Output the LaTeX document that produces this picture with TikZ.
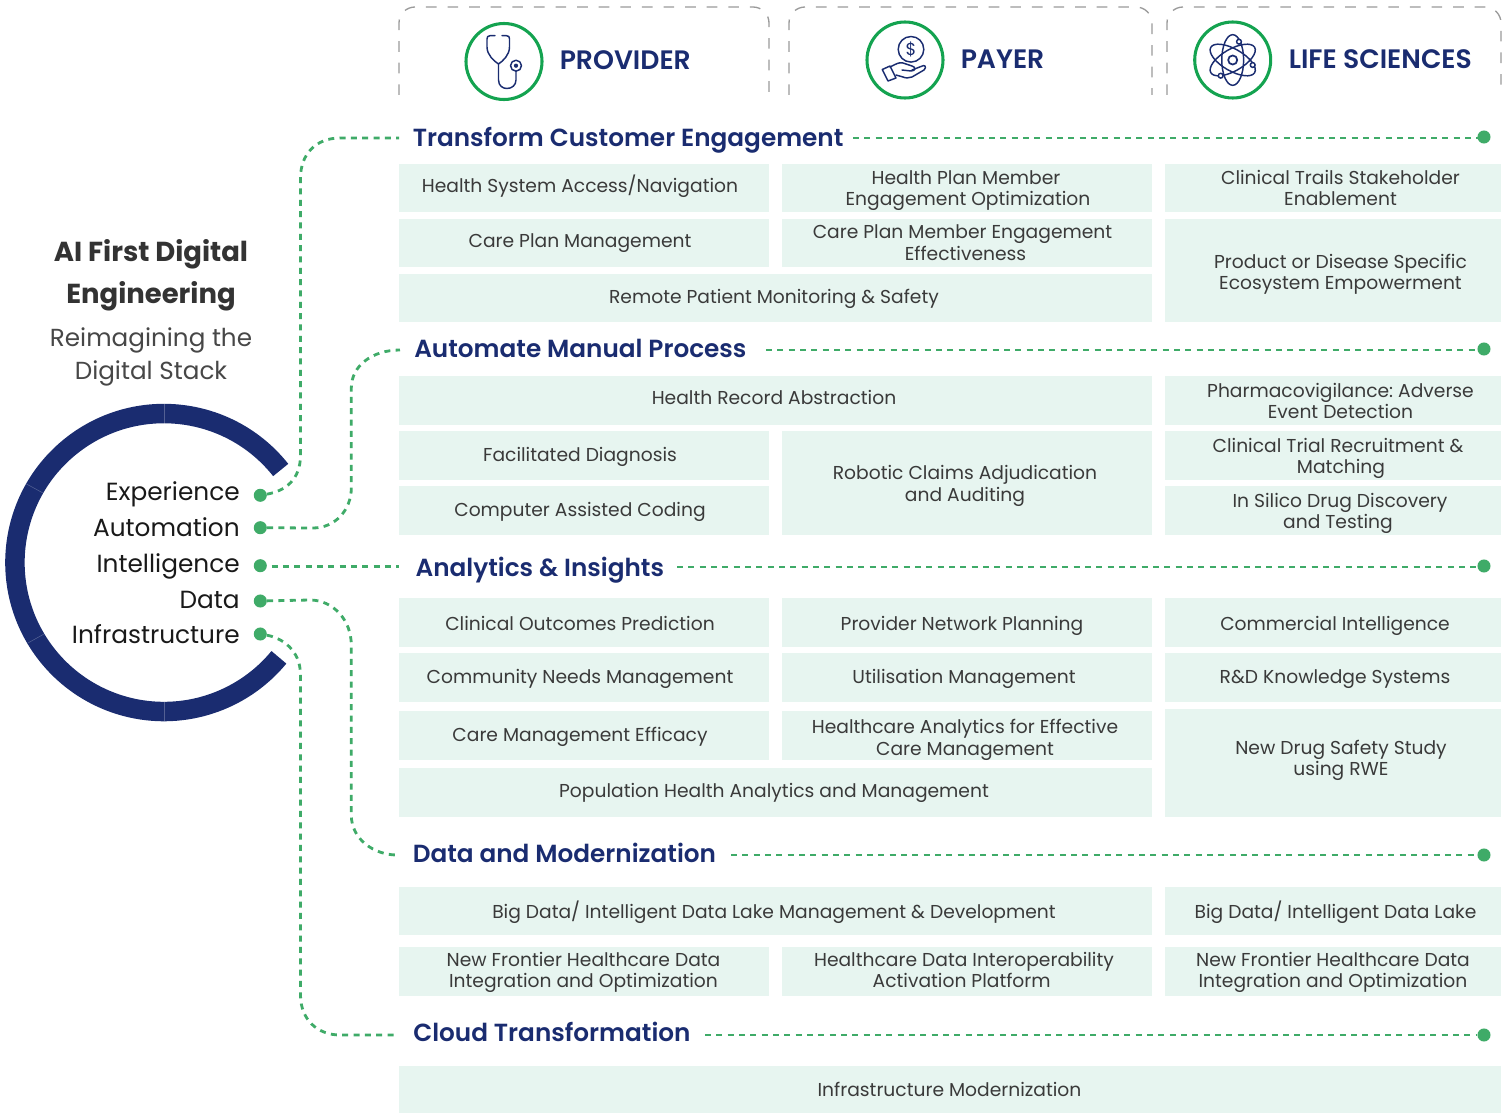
\documentclass[tikz,border=0pt]{standalone}
\usepackage{fontspec}
\setmainfont{Poppins}
\newfontfamily\semib{Poppins SemiBold}
\definecolor{navy}{HTML}{1A2C70}
\definecolor{cellbg}{HTML}{E7F5F0}
\definecolor{dotg}{HTML}{3FAB68}
\definecolor{ringg}{HTML}{14A350}
\definecolor{celltx}{HTML}{3A3A3A}
\definecolor{headdash}{HTML}{9A9A9A}
\usetikzlibrary{fit,calc}
\frenchspacing
\tikzset{
 cellbox/.style={fill=cellbg,draw=none,inner sep=0pt},
 celltext/.style={inner sep=0pt,align=center,text=celltx,yshift=-2.2pt,font=\frenchspacing\fontsize{14.02}{16.15}\selectfont,execute at begin node=\strut,execute at end node=\strut},
 sectitle/.style={anchor=west,inner sep=0pt,text=navy,font=\semib\fontsize{18.56}{24}\selectfont},
 headlabel/.style={anchor=west,inner sep=0pt,text=navy,font=\semib\fontsize{20}{24}\selectfont},
 leftlabel/.style={anchor=east,inner sep=0pt,text=black!90,font=\fontsize{18.6}{24}\selectfont},
 gdot/.style={circle,fill=dotg,draw=none,minimum size=9.8pt,inner sep=0pt},
 conn/.style={draw=dotg,line width=2.1pt,dash pattern=on 4.5pt off 4pt},
 headbox/.style={draw=headdash,line width=1pt,dash pattern=on 8pt off 8.2pt},
 iconring/.style={circle,draw=ringg,line width=2.3pt,minimum size=57pt,inner sep=0pt},
 iconline/.style={draw=navy,line width=1.1pt,line cap=round,line join=round},
}
% name, x0, y0, x1, y1, text x, text y, text
\newcommand\cellb[8]{%
 \path (#2,#3) coordinate (#1-a) (#4,#5) coordinate (#1-b);
 \node[cellbox,fit=(#1-a)(#1-b)] (#1) {};
 \node[celltext] (#1-t) at (#6,#7) {#8};}
\begin{document}
\begin{tikzpicture}[x=0.75pt,y=-0.75pt]
\useasboundingbox (0,0) rectangle (1511,1113);
% header boxes
\draw[headbox] (399,95) -- (399,23) arc[start angle=180,end angle=90,radius=12pt] -- (753,7) arc[start angle=90,end angle=0,radius=12pt] -- (769,95);
\draw[headbox] (789,95) -- (789,23) arc[start angle=180,end angle=90,radius=12pt] -- (1136,7) arc[start angle=90,end angle=0,radius=12pt] -- (1152,95);
\draw[headbox] (1167,95) -- (1167,23) arc[start angle=180,end angle=90,radius=12pt] -- (1485,7) arc[start angle=90,end angle=0,radius=12pt] -- (1501,95);
% header rings
\node[iconring] (ring1) at (504,61.5) {};
\node[iconring] (ring2) at (905,60) {};
\node[iconring] (ring3) at (1232.7,60) {};
\node[headlabel] (h1) at (559.5,60) {PROVIDER};
\node[headlabel] (h2) at (960.5,59) {PAYER};
\node[headlabel] (h3) at (1288.5,59) {LIFE SCIENCES};
% stethoscope
\draw[iconline] (495,35.7) -- (490,35.7) .. controls (487.7,35.7) and (487,37) .. (487,39) -- (487,47) .. controls (487,55) and (494,61) .. (498.5,64) .. controls (503,61) and (509.5,55) .. (509.5,47) -- (509.5,39) .. controls (509.5,37) and (509,35.7) .. (506.5,35.7) -- (502,35.7);
\draw[iconline] (498.5,64) -- (498.5,80) .. controls (498.5,86) and (503,88.5) .. (507,88.5) .. controls (512,88.5) and (516,85) .. (516,80) -- (516,71);
\draw[iconline] (516,65.7) circle[radius=4.1pt];
\fill[navy] (516,65.7) circle[radius=1.6pt];
% coin and hand
\draw[iconline] (911,49.3) circle[radius=9.6pt];
\node[inner sep=0pt,text=navy,font=\fontsize{13}{13}\selectfont] (dollar) at (911,49.3) {\$};
\draw[iconline] (882.3,69.5) -- (890,66) -- (896,78) -- (888,81) -- cycle;
\draw[iconline] (890,67) .. controls (896,64) and (899,62) .. (903,63) -- (912,66) .. controls (916,67) and (916,71) .. (911,71) -- (902,70);
\draw[iconline] (912,70) -- (921,66.5) .. controls (925,64) and (927,67) .. (924,70) -- (912,77) .. controls (909,78.5) and (905,78) .. (903,77) -- (896,75);
% atom
\coordinate (atomc) at (1232.7,60);
\foreach \a in {90,30,-30}{\draw[iconline,rotate around={\a:(atomc)}] (atomc) ellipse[x radius=19pt,y radius=8.2pt];}
\draw[iconline,line width=1.3pt] (atomc) circle[radius=3.4pt];
\foreach \p in {(1239,41.7),(1252.7,65),(1220.7,75.7)}{\filldraw[iconline,fill=white] \p circle[radius=1.8pt];}
% left text
\node[inner sep=0pt,text=black!80,font=\fontsize{20.6}{24}\selectfont\bfseries] (ai1) at (151,254) {AI First Digital};
\node[inner sep=0pt,text=black!80,font=\fontsize{20.6}{24}\selectfont\bfseries] (ai2) at (151,296) {Engineering};
\node[inner sep=0pt,text=black!72,font=\fontsize{18.5}{24}\selectfont] (re1) at (151,340) {Reimagining the};
\node[inner sep=0pt,text=black!72,font=\fontsize{18.5}{24}\selectfont] (re2) at (151,373) {Digital Stack};
% ring
\draw[navy,line width=14.6pt] (280.7,470) arc[start angle=38.4,end angle=320.5,radius=111.75pt];
\draw[white,opacity=.25,line width=.4pt] (164,404) -- (164,423.5);
\draw[white,opacity=.25,line width=.4pt] (164.5,702) -- (164.5,721);
\draw[white,opacity=.25,line width=.4pt] (26.5,484) -- (43,493);
\draw[white,opacity=.25,line width=.4pt] (28,643) -- (44,634);
% labels and dots
\node[leftlabel] (l1) at (240,494) {Experience};
\node[leftlabel] (l2) at (240,527) {Automation};
\node[leftlabel] (l3) at (240,566) {Intelligence};
\node[leftlabel] (l4) at (240,600) {Data};
\node[leftlabel] (l5) at (240,634) {Infrastructure};
\coordinate (e1) at (399,138);
\coordinate (e2) at (400,350);
\coordinate (e3) at (399,566.7);
\coordinate (e4) at (397,855);
\coordinate (e5) at (395,1035);
\coordinate (s1) at (853,138);
\coordinate (s2) at (766,350);
\coordinate (s3) at (677,567);
\coordinate (s4) at (731,855);
\coordinate (s5) at (705,1035);
\node[gdot] (d1) at (260.3,495.3) {};
\node[gdot] (d2) at (260.3,527.7) {};
\node[gdot] (d3) at (260.3,565.7) {};
\node[gdot] (d4) at (260.3,601) {};
\node[gdot] (d5) at (260.3,634) {};
\node[gdot] (r1) at (1484,137) {};
\node[gdot] (r2) at (1484,349) {};
\node[gdot] (r3) at (1484,566) {};
\node[gdot] (r4) at (1484,855) {};
\node[gdot] (r5) at (1484,1035) {};
\draw[conn] (d1) .. controls (285,491) and (300.5,480) .. (300.5,455) -- (300.5,178) .. controls (300.5,154) and (316,138) .. (340,138) -- (e1);
\draw[conn] (d2) -- (313,528) .. controls (335,528) and (351.3,510) .. (351.3,488) -- (351.3,388) .. controls (351.3,366) and (372,350) .. (e2);
\draw[conn] (e3 -| d3) -- (e3);
\draw[conn] (d4) -- (310,600) .. controls (333,600) and (351.3,620) .. (351.3,645) -- (351.3,815) .. controls (351.3,840) and (375,855) .. (e4);
\draw[conn] (d5) .. controls (282,638) and (300.5,650) .. (300.5,675) -- (300.5,995) .. controls (300.5,1020) and (318,1035) .. (340,1035) -- (e5);
\draw[conn] (s1) -- (s1 -| r1);
\draw[conn] (s2) -- (s2 -| r2);
\draw[conn] (s3) -- (s3 -| r3);
\draw[conn] (s4) -- (r4);
\draw[conn] (s5) -- (r5);
% section titles
\node[sectitle] (t1) at (412.5,140) {Transform Customer Engagement};
\node[sectitle] (t2) at (414,348) {Automate Manual Process};
\node[sectitle] (t3) at (415.3,570) {Analytics \& Insights};
\node[sectitle] (t4) at (412.5,853) {Data and Modernization};
\node[sectitle] (t5) at (413,1032) {Cloud Transformation};
% cells
\cellb{a1}{399}{164}{769}{212}{580}{184}{Health System Access/Navigation}
\cellb{a2}{782}{164}{1152}{212}{966}{188.5}{Health Plan Member\\\hspace*{3pt}Engagement Optimization}
\cellb{a3}{1165}{164}{1501}{212}{1340.5}{188}{Clinical Trails Stakeholder\\Enablement}
\cellb{a4}{399}{219}{769}{267}{580}{240}{Care Plan Management}
\cellb{a5}{782}{219}{1152}{267}{962.5}{243}{Care Plan Member Engagement\\\hspace*{4.5pt}Effectiveness}
\cellb{a6}{1165}{219}{1501}{322}{1340.5}{272}{Product or Disease Specific\\Ecosystem Empowerment}
\cellb{a7}{399}{274}{1152}{322}{774}{296}{Remote Patient Monitoring \& Safety}
\cellb{b1}{399}{376}{1152}{425}{774}{397}{Health Record Abstraction}
\cellb{b2}{1165}{376}{1501}{425}{1340.5}{401}{Pharmacovigilance: Adverse\\Event Detection}
\cellb{b3}{399}{431}{769}{480}{580}{454}{Facilitated Diagnosis}
\cellb{b4}{782}{431}{1152}{535}{965}{483.5}{Robotic Claims Adjudication\\and Auditing}
\cellb{b5}{1165}{431}{1501}{480}{1338}{456}{Clinical Trial Recruitment \&\\\hspace*{4.5pt}Matching}
\cellb{b6}{399}{486}{769}{535}{580}{509}{Computer Assisted Coding}
\cellb{b7}{1165}{486}{1501}{535}{1340}{511}{In Silico Drug Discovery\\\hspace*{-3pt}and Testing}
\cellb{c1}{399}{598}{769}{647}{580}{623}{Clinical Outcomes Prediction}
\cellb{c2}{782}{598}{1152}{647}{962}{623}{Provider Network Planning}
\cellb{c3}{1165}{598}{1501}{647}{1335}{623}{Commercial Intelligence}
\cellb{c4}{399}{653}{769}{702}{580}{676}{Community Needs Management}
\cellb{c5}{782}{653}{1152}{702}{964}{676}{Utilisation Management}
\cellb{c6}{1165}{653}{1501}{702}{1335}{676}{R\&D Knowledge Systems}
\cellb{c7}{399}{711}{769}{760}{580}{734}{Care Management Efficacy}
\cellb{c8}{782}{711}{1152}{760}{965}{737.5}{Healthcare Analytics for Effective\\Care Management}
\cellb{c9}{1165}{709}{1501}{817}{1341}{758}{New Drug Safety Study\\using RWE}
\cellb{c10}{399}{768}{1152}{817}{774}{790}{Population Health Analytics and Management}
\cellb{f1}{399}{887}{1152}{935}{774}{909.5}{Big Data/ Intelligent Data Lake Management \& Development}
\cellb{f2}{1165}{887}{1501}{935}{1335.5}{909.5}{Big Data/ Intelligent Data Lake}
\cellb{f3}{399}{947}{769}{996}{583.5}{970}{New Frontier Healthcare Data\\Integration and Optimization}
\cellb{f4}{782}{947}{1152}{996}{964}{970}{Healthcare Data Interoperability\\Activation Platform\hspace*{3.5pt}}
\cellb{f5}{1165}{947}{1501}{996}{1333}{970}{New Frontier Healthcare Data\\Integration and Optimization}
\cellb{g1}{399}{1066}{1501}{1113}{949.5}{1089}{Infrastructure Modernization}
\end{tikzpicture}
\end{document}
